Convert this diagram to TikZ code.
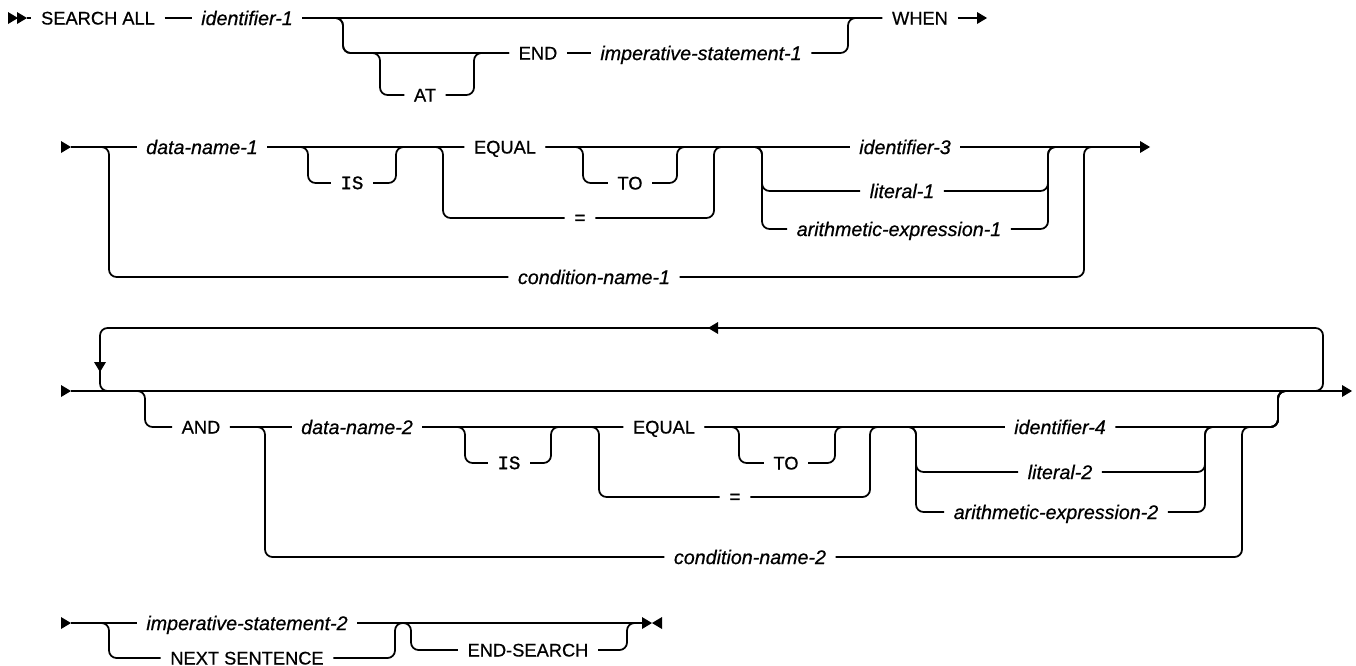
\documentclass[tikz,border=0pt]{standalone}
\usepackage{fontspec}
\setmainfont{Liberation Sans}
\setmonofont{Liberation Mono}
\usepackage{tikz}
\newcommand{\kwfont}{\fontsize{10.4}{12}\selectfont\addfontfeatures{FakeBold=0.6}}
\newcommand{\vrfont}{\fontsize{11.2}{13}\selectfont\itshape\addfontfeatures{FakeBold=0.6}}
\newcommand{\ttkwfont}{\ttfamily\fontsize{10.8}{12}\selectfont\addfontfeatures{FakeBold=1.2}}
\newcommand{\rtip}[1]{\fill (#1) ++(0,-6) -- ++(10,6) -- ++(-10,6) -- cycle;}
\newcommand{\ltip}[1]{\fill (#1) ++(0,-6) -- ++(-10,6) -- ++(10,6) -- cycle;}
\newcommand{\dtip}[1]{\fill (#1) ++(-6,0) -- ++(6,10) -- ++(6,-10) -- cycle;}

\begin{document}
\begin{tikzpicture}[x=0.02cm,y=-0.02cm,line width=1pt,
  kw/.style={font=\kwfont,inner xsep=5pt,inner ysep=0pt,text height=7.4pt,text depth=0pt},
  vr/.style={kw,font=\vrfont,text height=8pt},
  tt/.style={kw,font=\ttkwfont,text height=7pt},
  rc/.style={rounded corners=0.15cm}]
  \useasboundingbox (0,0) rectangle (1356,666);
  % row 1
  \rtip{8,18} \rtip{17,18}
  \coordinate (r1s) at (27,18); \coordinate (w1) at (977,18);
  \node[kw] (search) at (98,18) {SEARCH ALL};
  \node[vr] (id1) at (247,18) {identifier-1};
  \node[kw] (end) at (538,53) {END};
  \node[kw] (at) at (425,95) {AT};
  \node[vr] (imp1) at (701,53) {imperative-statement-1};
  \node[kw] (when) at (920,18) {WHEN};
  \draw (r1s) -- (search.west); \draw (search.east) -- (id1.west); \draw (id1.east) -- (when.west);
  \draw[rc] (id1.east) -| (343,53) -- (end.west);
  \draw[rc] (id1.east) -| (343,53) -| (380,95) -- (at.west);
  \draw[rc] (at.east) -| (474,53) -- (end.west);
  \draw (end.east) -- (imp1.west);
  \draw[rc] (imp1.east) -| (848,18) -- (when.west);
  \draw (when.east) -- (w1); \rtip{w1}
  % row 2
  \rtip{61,147}
  \coordinate (r2s) at (71,147); \coordinate (r2e) at (1140,147);
  \node[vr] (dn1) at (202,147) {data-name-1};
  \node[tt] (is1) at (352,183) {IS};
  \node[kw] (eq1) at (505,147) {EQUAL};
  \node[kw] (to1) at (630,183) {TO};
  \node[tt] (eqs1) at (580,218) {=};
  \node[vr] (id3) at (905,147) {identifier-3};
  \node[vr] (lit1) at (902,191) {literal-1};
  \node[vr] (ar1) at (899,229) {arithmetic-expression-1};
  \node[vr] (cn1) at (594,277) {condition-name-1};
  \draw (r2s) -- (dn1.west); \draw (dn1.east) -- (eq1.west); \draw (eq1.east) -- (id3.west); \draw (id3.east) -- (r2e);
  \draw[rc] (r2s) -| (109,277) -- (cn1.west);
  \draw[rc] (dn1.east) -| (308,183) -- (is1.west);
  \draw[rc] (is1.east) -| (396,147) -- (eq1.west);
  \draw[rc] (dn1.east) -| (443,218) -- (eqs1.west);
  \draw[rc] (eq1.east) -| (583,183) -- (to1.west);
  \draw[rc] (to1.east) -| (677,147) -- (id3.west);
  \draw[rc] (eqs1.east) -| (714,147) -- (id3.west);
  \draw[rc] (eq1.east) -| (762,191) -- (lit1.west);
  \draw[rc] (eq1.east) -| (762,229) -- (ar1.west);
  \draw[rc] (lit1.east) -| (1048,147) -- (r2e);
  \draw[rc] (ar1.east) -| (1048,147) -- (r2e);
  \draw[rc] (cn1.east) -| (1084,147) -- (r2e);
  \rtip{r2e}
  % row 3
  \rtip{61,391}
  \coordinate (r3s) at (71,391); \coordinate (r3e) at (1342,391);
  \coordinate (lpa) at (125,391); \coordinate (lpb) at (1300,391);
  \node[kw] (and) at (201,427) {AND};
  \node[vr] (dn2) at (357,427) {data-name-2};
  \node[tt] (is2) at (509,463) {IS};
  \node[kw] (eq2) at (664,427) {EQUAL};
  \node[kw] (to2) at (786,463) {TO};
  \node[tt] (eqs2) at (735,497) {=};
  \node[vr] (id4) at (1060,427) {identifier-4};
  \node[vr] (lit2) at (1060,472) {literal-2};
  \node[vr] (ar2) at (1056,512) {arithmetic-expression-2};
  \node[vr] (cn2) at (750,557) {condition-name-2};
  \draw (r3s) -- (r3e); \rtip{r3e}
  \draw[rc] (lpa) -| (100,328) -- (1323,328) |- (lpb);
  \ltip{718,328} \dtip{100,362}
  \draw[rc] (r3s) -| (145,427) -- (and.west);
  \draw (and.east) -- (dn2.west); \draw (dn2.east) -- (eq2.west); \draw (eq2.east) -- (id4.west);
  \draw[rc] (and.east) -| (265,557) -- (cn2.west);
  \draw[rc] (dn2.east) -| (465,463) -- (is2.west);
  \draw[rc] (is2.east) -| (551,427) -- (eq2.west);
  \draw[rc] (dn2.east) -| (599,497) -- (eqs2.west);
  \draw[rc] (eq2.east) -| (739,463) -- (to2.west);
  \draw[rc] (to2.east) -| (835,427) -- (id4.west);
  \draw[rc] (eqs2.east) -| (870,427) -- (id4.west);
  \draw[rc] (eq2.east) -| (916,472) -- (lit2.west);
  \draw[rc] (eq2.east) -| (916,512) -- (ar2.west);
  \draw[rc] (id4.east) -| (1278,391) -- (r3e);
  \draw[rc] (lit2.east) -| (1205,427) -| (1278,391) -- (r3e);
  \draw[rc] (ar2.east) -| (1205,427) -| (1278,391) -- (r3e);
  \draw[rc] (cn2.east) -| (1242,427) -| (1278,391) -- (r3e);
  % row 4
  \rtip{61,623}
  \coordinate (r4s) at (71,623); \coordinate (r4e) at (642,623);
  \node[vr] (imp2) at (247,623) {imperative-statement-2};
  \node[kw] (ns) at (247,658) {NEXT SENTENCE};
  \node[kw] (es) at (528,650) {END-SEARCH};
  \draw (r4s) -- (imp2.west); \draw (imp2.east) -- (r4e);
  \draw[rc] (r4s) -| (109,658) -- (ns.west);
  \draw[rc] (ns.east) -| (395,623) -- (r4e);
  \draw[rc] (imp2.east) -| (411,650) -- (es.west);
  \draw[rc] (es.east) -| (627,623) -- (r4e);
  \rtip{r4e} \ltip{662,623}
\end{tikzpicture}
\end{document}
